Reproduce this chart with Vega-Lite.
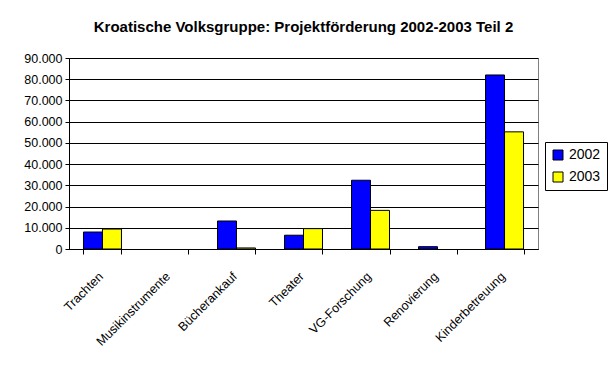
{
  "$schema": "https://vega.github.io/schema/vega-lite/v6.json",
  "width": 469,
  "height": 191,
  "autosize": "none",
  "padding": {"left": 69, "top": 58, "right": 73, "bottom": 131},
  "background": "white",
  "title": {
    "text": "Kroatische Volksgruppe: Projektförderung 2002-2003 Teil 2",
    "font": "Liberation Sans",
    "fontSize": 15,
    "fontWeight": "bold",
    "color": "black",
    "anchor": "middle",
    "offset": 17
  },
  "data": {
    "values": [
      {"Projekt": "Trachten", "Jahr": "2002", "Betrag": 8000},
      {"Projekt": "Trachten", "Jahr": "2003", "Betrag": 9400},
      {"Projekt": "Musikinstrumente", "Jahr": "2002", "Betrag": 0},
      {"Projekt": "Musikinstrumente", "Jahr": "2003", "Betrag": 0},
      {"Projekt": "Bücherankauf", "Jahr": "2002", "Betrag": 13200},
      {"Projekt": "Bücherankauf", "Jahr": "2003", "Betrag": 500},
      {"Projekt": "Theater", "Jahr": "2002", "Betrag": 6500},
      {"Projekt": "Theater", "Jahr": "2003", "Betrag": 9600},
      {"Projekt": "VG-Forschung", "Jahr": "2002", "Betrag": 32400},
      {"Projekt": "VG-Forschung", "Jahr": "2003", "Betrag": 18200},
      {"Projekt": "Renovierung", "Jahr": "2002", "Betrag": 1100},
      {"Projekt": "Renovierung", "Jahr": "2003", "Betrag": 0},
      {"Projekt": "Kinderbetreuung", "Jahr": "2002", "Betrag": 82000},
      {"Projekt": "Kinderbetreuung", "Jahr": "2003", "Betrag": 55200}
    ]
  },
  "transform": [{"filter": "datum.Betrag > 0"}],
  "mark": {"type": "bar", "stroke": "black", "strokeWidth": 1},
  "encoding": {
    "x": {
      "field": "Projekt",
      "type": "nominal",
      "sort": null,
      "scale": {
        "domain": ["Trachten", "Musikinstrumente", "Bücherankauf", "Theater", "VG-Forschung", "Renovierung", "Kinderbetreuung"],
        "paddingInner": 0.433,
        "paddingOuter": 0.216
      },
      "axis": {
        "title": null,
        "labelAngle": -45,
        "labelAlign": "right",
        "labelBaseline": "middle",
        "tickBand": "extent",
        "tickSize": 5,
        "labelPadding": 20,
        "labelOffset": -2,
        "labelFontSize": 12.5,
        "labelFont": "Liberation Sans",
        "labelColor": "black",
        "domainColor": "black",
        "tickColor": "black",
        "grid": false
      }
    },
    "xOffset": {"field": "Jahr", "type": "nominal", "scale": {"domain": ["2002", "2003"], "paddingInner": 0, "paddingOuter": 0}},
    "y": {
      "field": "Betrag",
      "type": "quantitative",
      "scale": {"domain": [0, 90000], "nice": false},
      "axis": {
        "title": null,
        "values": [0, 10000, 20000, 30000, 40000, 50000, 60000, 70000, 80000, 90000],
        "format": ",.0f",
        "labelFontSize": 12.5,
        "labelFont": "Liberation Sans",
        "labelColor": "black",
        "domainColor": "black",
        "tickColor": "black",
        "tickSize": 4,
        "labelPadding": 3,
        "gridColor": "black",
        "gridOpacity": 1,
        "grid": true
      }
    },
    "color": {
      "field": "Jahr",
      "type": "nominal",
      "scale": {"domain": ["2002", "2003"], "range": ["#0000FF", "#FFFF00"]},
      "legend": {
        "title": null,
        "orient": "none",
        "legendX": 476,
        "legendY": 84,
        "symbolType": "square",
        "symbolSize": 100,
        "symbolStrokeColor": "black",
        "symbolStrokeWidth": 1,
        "labelFontSize": 14,
        "labelFont": "Liberation Sans",
        "labelColor": "black",
        "rowPadding": 8,
        "padding": 6,
        "strokeColor": "black",
        "fillColor": "white"
      }
    }
  },
  "config": {
    "locale": {"number": {"decimal": ",", "thousands": ".", "grouping": [3], "currency": ["", " €"]}},
    "view": {"stroke": "#808080"},
    "axis": {"domainWidth": 1}
  }
}
